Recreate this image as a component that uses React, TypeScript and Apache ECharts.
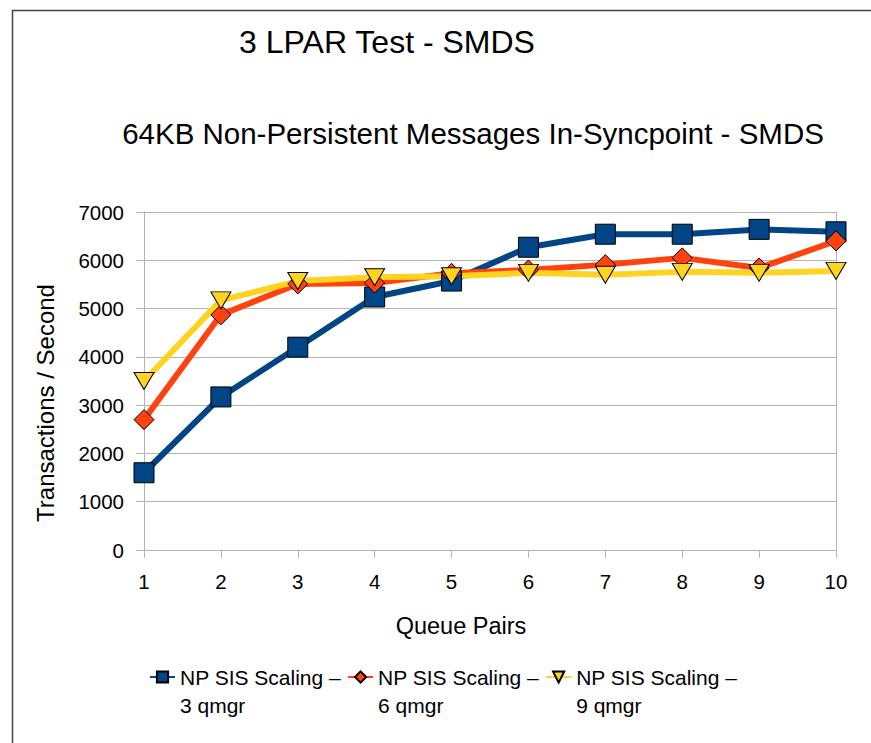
import React, { useEffect, useRef } from "react";
import * as echarts from "echarts";

const queuePairs = [1, 2, 3, 4, 5, 6, 7, 8, 9, 10];
const scaling3 = [1600, 3170, 4200, 5240, 5570, 6270, 6540, 6540, 6640, 6590];
const scaling6 = [2700, 4870, 5510, 5530, 5730, 5800, 5910, 6050, 5840, 6400];
const scaling9 = [3500, 5170, 5570, 5650, 5670, 5740, 5700, 5760, 5740, 5780];
const seriesNames = [
  "NP SIS Scaling – 3 qmgr",
  "NP SIS Scaling – 6 qmgr",
  "NP SIS Scaling – 9 qmgr",
];
const yTicks = [0, 1000, 2000, 3000, 4000, 5000, 6000, 7000];

const FONT = "'Liberation Sans', Arial, sans-serif";

export default function App() {
  const ref = useRef<HTMLDivElement>(null);

  useEffect(() => {
    if (!ref.current) return;
    const chart = echarts.init(ref.current, undefined, { renderer: "svg" });
    const pairs = (vals: number[]) => queuePairs.map((q, i) => [q, vals[i]]);
    const gridColor = "#b3b3b3";
    chart.setOption({
      animation: false,
      backgroundColor: "#ffffff",
      textStyle: { fontFamily: FONT },
      graphic: [
        {
          type: "rect",
          shape: { x: 12.5, y: 10.5, width: 1000, height: 1000 },
          style: { fill: "none", stroke: "#444", lineWidth: 1.5 },
          silent: true,
        },
        {
          type: "text",
          x: 387,
          y: 42,
          style: {
            text: "3 LPAR Test - SMDS",
            fontFamily: FONT,
            fontSize: 32,
            fill: "#000",
            align: "center",
            verticalAlign: "middle",
          },
        },
        {
          type: "text",
          x: 473,
          y: 133,
          style: {
            text: "64KB Non-Persistent Messages In-Syncpoint - SMDS",
            fontFamily: FONT,
            fontSize: 29.5,
            fill: "#000",
            align: "center",
            verticalAlign: "middle",
          },
        },
        {
          type: "text",
          x: 461,
          y: 626,
          style: {
            text: "Queue Pairs",
            fontFamily: FONT,
            fontSize: 23.5,
            fill: "#000",
            align: "center",
            verticalAlign: "middle",
          },
        },
        {
          type: "text",
          x: 45,
          y: 403,
          rotation: Math.PI / 2,
          style: {
            text: "Transactions / Second",
            fontFamily: FONT,
            fontSize: 24,
            fill: "#000",
            align: "center",
            verticalAlign: "middle",
          },
        },
      ],
      grid: { left: 144, right: 35, top: 212, bottom: 193, containLabel: false },
      xAxis: {
        type: "value",
        min: 1,
        max: 10,
        interval: 1,
        axisLine: { show: true, lineStyle: { color: gridColor, width: 1 } },
        axisTick: { show: true, length: 8, lineStyle: { color: gridColor } },
        axisLabel: { fontFamily: FONT, fontSize: 20.5, color: "#000", margin: 21 },
        splitLine: { show: false },
      },
      yAxis: [
        {
          type: "value",
          min: 0,
          max: 7000,
          interval: 1000,
          axisLine: { show: true, lineStyle: { color: gridColor, width: 1 } },
          axisTick: { show: true, length: 8, lineStyle: { color: gridColor } },
          axisLabel: {
            fontFamily: FONT,
            fontSize: 20.5,
            color: "#000",
            margin: 20,
            formatter: (v: number) => (yTicks.includes(v) ? String(v) : ""),
          },
          splitLine: { show: true, lineStyle: { color: gridColor, width: 1 } },
        },
        {
          type: "value",
          position: "right",
          min: 0,
          max: 7000,
          interval: 1000,
          axisLine: { show: true, lineStyle: { color: gridColor, width: 1 } },
          axisTick: { show: false },
          axisLabel: { show: false },
          splitLine: { show: false },
        },
      ],
      legend: {
        left: 149,
        top: 635,
        padding: 0,
        itemGap: 6,
        itemWidth: 25,
        itemHeight: 14,
        formatter: (name: string) => " \n" + name.replace("– ", "–\n"),
        textStyle: {
          fontFamily: FONT,
          fontSize: 21,
          color: "#000",
          lineHeight: 28,
        },
        data: seriesNames,
      },
      series: [
        {
          name: seriesNames[0],
          type: "line",
          data: pairs(scaling3),
          symbol: "rect",
          symbolSize: 20,
          lineStyle: { color: "#004586", width: 6 },
          itemStyle: { color: "#004586", borderColor: "#000", borderWidth: 1 },
        },
        {
          name: seriesNames[1],
          type: "line",
          data: pairs(scaling6),
          symbol: "diamond",
          symbolSize: 20,
          lineStyle: { color: "#ff420e", width: 6 },
          itemStyle: { color: "#ff420e", borderColor: "#000", borderWidth: 1 },
        },
        {
          name: seriesNames[2],
          type: "line",
          data: pairs(scaling9),
          symbol: "triangle",
          symbolRotate: 180,
          symbolSize: [20, 17],
          lineStyle: { color: "#ffd320", width: 6 },
          itemStyle: { color: "#ffd320", borderColor: "#000", borderWidth: 1 },
        },
      ],
    });
    return () => chart.dispose();
  }, []);

  return (
    <div
      ref={ref}
      style={{ position: "absolute", left: 0, top: 0, width: 871, height: 743, background: "#fff" }}
    />
  );
}
